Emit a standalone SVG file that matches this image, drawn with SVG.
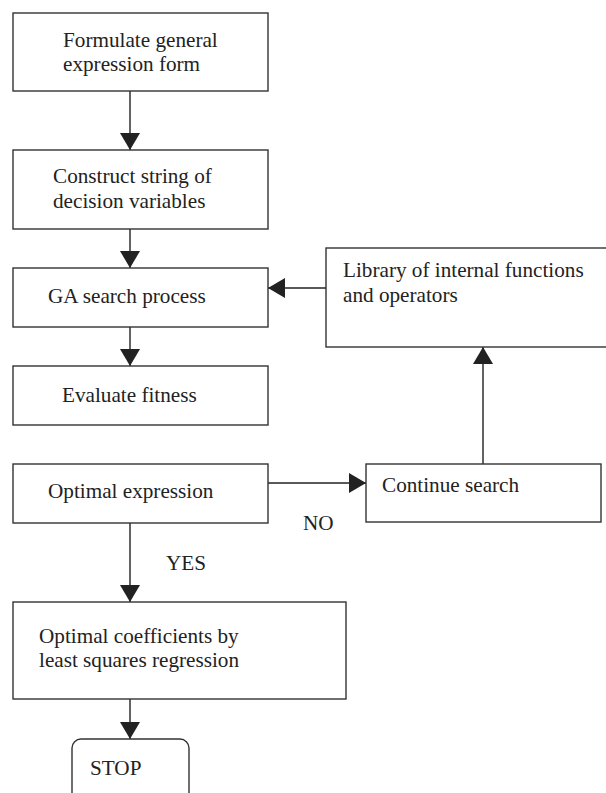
<svg xmlns="http://www.w3.org/2000/svg" width="606" height="793" viewBox="0 0 606 793">
<defs>
<style>
.box{fill:#fff;stroke:#333;stroke-width:1.4}
.t{font-family:"Liberation Serif","Times New Roman",serif;font-size:21.2px;fill:#222}
.c{stroke:#222;stroke-width:1.4;fill:none}
</style>
<marker id="ah" markerUnits="userSpaceOnUse" markerWidth="18" markerHeight="20" refX="17" refY="10" orient="auto">
<path d="M0,0 L17,10 L0,20 Z" fill="#222"/>
</marker>
</defs>
<rect width="606" height="793" fill="#fff"/>
<g id="connectors">
<line class="c" x1="130" y1="91" x2="130" y2="150" marker-end="url(#ah)"/>
<line class="c" x1="130" y1="229" x2="130" y2="268" marker-end="url(#ah)"/>
<line class="c" x1="130" y1="327" x2="130" y2="366" marker-end="url(#ah)"/>
<line class="c" x1="130" y1="523" x2="130" y2="602" marker-end="url(#ah)"/>
<line class="c" x1="130" y1="699" x2="130" y2="739" marker-end="url(#ah)"/>
<line class="c" x1="326" y1="288" x2="268" y2="288" marker-end="url(#ah)"/>
<line class="c" x1="268" y1="483" x2="366" y2="483" marker-end="url(#ah)"/>
<line class="c" x1="483" y1="464" x2="483" y2="347" marker-end="url(#ah)"/>
<text class="t" x="166" y="570">YES</text>
<text class="t" x="303" y="530">NO</text>
</g>
<g id="n1">
<rect class="box" x="13" y="13" width="255" height="78"/>
<text class="t" x="63" y="46.5">Formulate general</text>
<text class="t" x="63" y="71">expression form</text>
</g>
<g id="n2">
<rect class="box" x="13" y="150" width="255" height="79"/>
<text class="t" x="53" y="182.5">Construct string of</text>
<text class="t" x="53" y="208">decision variables</text>
</g>
<g id="n3">
<rect class="box" x="13" y="268" width="255" height="59"/>
<text class="t" x="48" y="303">GA search process</text>
</g>
<g id="n4">
<rect class="box" x="13" y="366" width="255" height="59"/>
<text class="t" x="62" y="401.5">Evaluate fitness</text>
</g>
<g id="n5">
<rect class="box" x="13" y="464" width="255" height="59"/>
<text class="t" x="48" y="498">Optimal expression</text>
</g>
<g id="n6">
<rect class="box" x="13" y="602" width="333" height="97"/>
<text class="t" x="39" y="642.5">Optimal coefficients by</text>
<text class="t" x="39" y="666.5">least squares regression</text>
</g>
<g id="n7">
<rect class="box" x="72" y="739" width="117" height="70" rx="9"/>
<text class="t" x="90" y="775">STOP</text>
</g>
<g id="n8">
<rect class="box" x="326" y="248" width="290" height="99"/>
<text class="t" x="343" y="276.5">Library of internal functions</text>
<text class="t" x="343" y="301.5">and operators</text>
</g>
<g id="n9">
<rect class="box" x="366" y="464" width="235" height="58"/>
<text class="t" x="382" y="492">Continue search</text>
</g>
</svg>
